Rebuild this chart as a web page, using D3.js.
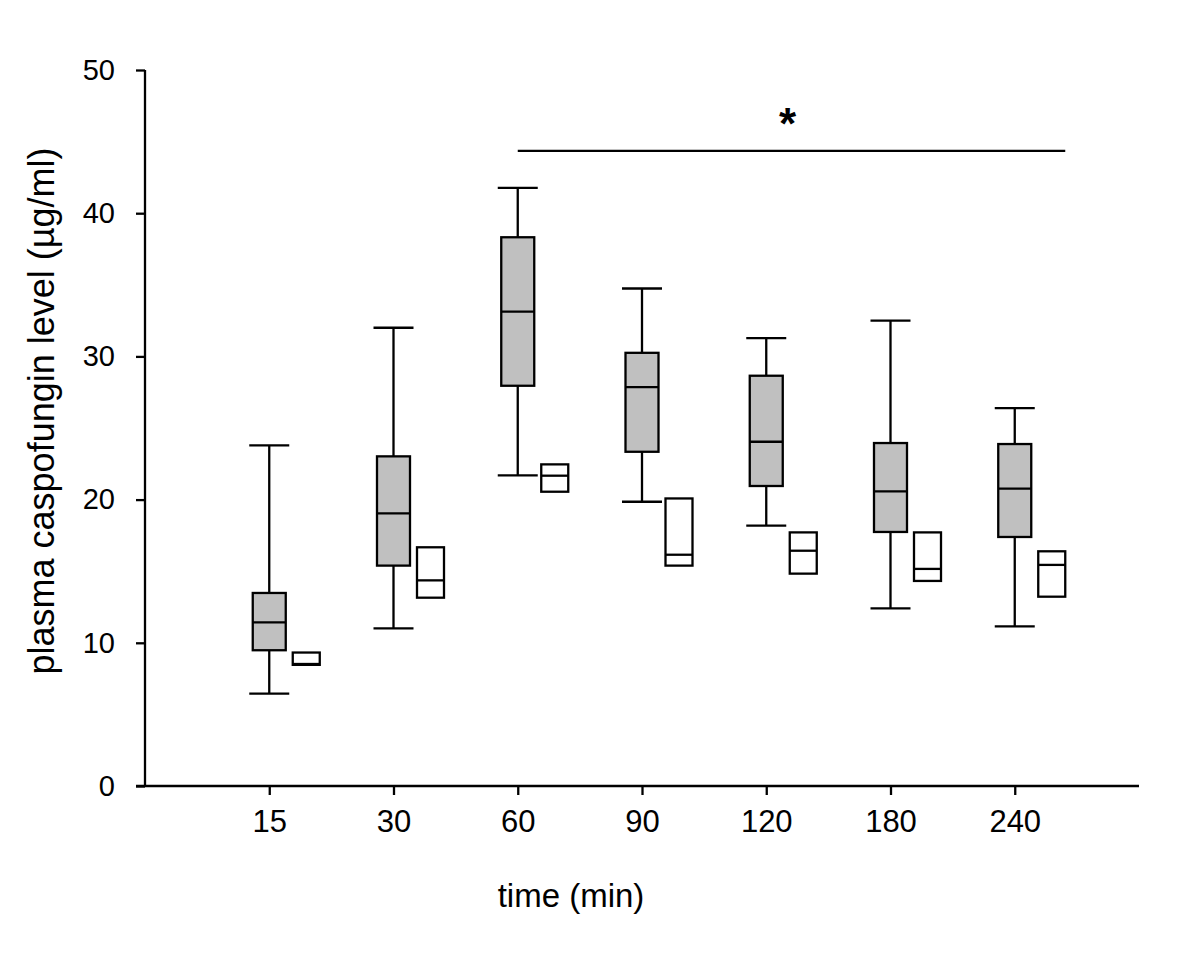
<!DOCTYPE html>
<html>
<head>
<meta charset="utf-8">
<script src="https://cdn.jsdelivr.net/npm/d3@7"></script>
<style>
  html, body { margin: 0; padding: 0; background: #fff; }
  svg text { font-family: "Liberation Sans", Arial, sans-serif; fill: #000; }
</style>
</head>
<body>
<svg id="chart" width="1200" height="963"></svg>
<script>
// ==== Data ====
const times = ["15", "30", "60", "90", "120", "180", "240"];

// grey boxes: [lower whisker, q1, median, q3, upper whisker]
const grayStats = [
  [6.45, 9.48, 11.43, 13.48, 23.78],
  [11.01, 15.39, 19.04, 23.02, 32.0],
  [21.69, 27.95, 33.13, 38.32, 41.77],
  [19.85, 23.34, 27.86, 30.25, 34.74],
  [18.18, 20.95, 24.04, 28.65, 31.28],
  [12.41, 17.74, 20.57, 23.95, 32.5],
  [11.15, 17.39, 20.76, 23.88, 26.39]
];

// white boxes: [q1, median, q3] (no whiskers)
const whiteStats = [
  [8.46, 8.52, 9.32],
  [13.15, 14.36, 16.67],
  [20.55, 21.67, 22.46],
  [15.39, 16.15, 20.08],
  [14.83, 16.43, 17.71],
  [14.32, 15.16, 17.71],
  [13.22, 15.44, 16.39]
];

const yTicks = [0, 10, 20, 30, 40, 50];

// significance bar: from the 60 min group to the 240 min group
const sigFrom = "60", sigTo = "240", sigLevel = 44.35, sigLabel = "*";

// ==== Layout ====
const svg = d3.select("#chart");
const axisLeftX = 145, axisRightX = 1139;
const y0 = 786, yTop = 70;
const lw = 2.3, ink = "#000";

const x = d3.scaleLinear().domain([0, times.length + 1]).range([axisLeftX, axisRightX]);
const y = d3.scaleLinear().domain([0, 50]).range([y0, yTop]);
const pos = t => x(times.indexOf(t) + 1);

const grayW = 33, whiteW = 27, capW = 40, whiteOffset = 37;

// Axes
const gx = svg.append("g")
  .attr("transform", `translate(0,${y0})`)
  .call(d3.axisBottom(x)
    .tickValues(d3.range(1, times.length + 1))
    .tickFormat(i => times[i - 1])
    .tickSize(9).tickPadding(15).tickSizeOuter(0));
gx.select(".domain").attr("d", `M${axisLeftX - 9},0H${axisRightX}`);
gx.selectAll("text").style("font-size", "31px").attr("font-family", null);

const gy = svg.append("g")
  .attr("transform", `translate(${axisLeftX},0)`)
  .call(d3.axisLeft(y).tickValues(yTicks).tickSize(9).tickPadding(21).tickSizeOuter(0));
gy.select(".domain").attr("d", `M0,${yTop}V${y0}`);
gy.selectAll("text").style("font-size", "29px").attr("font-family", null);

svg.selectAll(".domain, .tick line").attr("stroke", ink).attr("stroke-width", lw);

// helper for plain black lines
const seg = (sel, x1, x2, y1, y2) => sel.append("line")
  .attr("x1", x1).attr("x2", x2).attr("y1", y1).attr("y2", y2)
  .attr("stroke", ink).attr("stroke-width", lw);

// Grey boxes with whiskers
const g = svg.append("g");
grayStats.forEach((s, i) => {
  const cx = pos(times[i]);
  const [lo, q1, med, q3, hi] = s;
  seg(g, cx, cx, y(hi), y(lo));
  [lo, hi].forEach(v => seg(g, cx - capW / 2, cx + capW / 2, y(v), y(v)));
  g.append("rect")
    .attr("x", cx - grayW / 2).attr("width", grayW)
    .attr("y", y(q3)).attr("height", y(q1) - y(q3))
    .attr("fill", "#c0c0c0").attr("stroke", ink).attr("stroke-width", lw);
  seg(g, cx - grayW / 2, cx + grayW / 2, y(med), y(med));
});

// White boxes (no whiskers)
whiteStats.forEach((s, i) => {
  const cx = pos(times[i]) + whiteOffset;
  const [q1, med, q3] = s;
  g.append("rect")
    .attr("x", cx - whiteW / 2).attr("width", whiteW)
    .attr("y", y(q3)).attr("height", y(q1) - y(q3))
    .attr("fill", "#fff").attr("stroke", ink).attr("stroke-width", lw);
  seg(g, cx - whiteW / 2, cx + whiteW / 2, y(med), y(med));
});

// Significance bar + star
const sx1 = pos(sigFrom), sx2 = pos(sigTo) + whiteOffset + whiteW / 2;
seg(svg, sx1, sx2, y(sigLevel), y(sigLevel));
svg.append("text")
  .attr("x", (sx1 + sx2) / 2 - 4).attr("y", y(sigLevel) - 12)
  .attr("text-anchor", "middle")
  .style("font-size", "44px").style("font-weight", "bold")
  .text(sigLabel);

// Axis titles
svg.append("text")
  .attr("x", 571).attr("y", 907)
  .attr("text-anchor", "middle")
  .style("font-size", "33px")
  .text("time (min)");

svg.append("text")
  .attr("transform", "translate(54,411) rotate(-90)")
  .attr("text-anchor", "middle")
  .style("font-size", "36px")
  .text("plasma caspofungin level (µg/ml)");
</script>
</body>
</html>
